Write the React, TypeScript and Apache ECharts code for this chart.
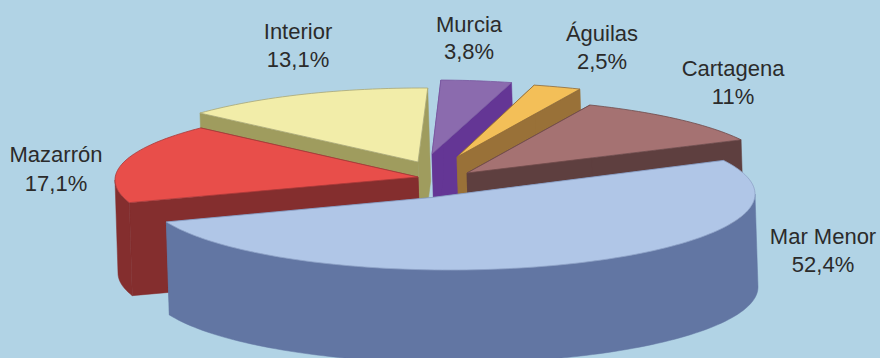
import React, { useEffect, useRef } from "react";
import * as echarts from "echarts";

// Clockwise from the top of the pie
const categories = ["Murcia", "Águilas", "Cartagena", "Mar Menor", "Mazarrón", "Interior"];
const values = [3.8, 2.5, 11, 52.4, 17.1, 13.1];
const percentLabels = ["3,8%", "2,5%", "11%", "52,4%", "17,1%", "13,1%"];
const topColors = ["#8B6BAE", "#F3BF58", "#A57272", "#B0C6E7", "#E84E4A", "#F2EDA9"];
const wallColors = ["#643695", "#997138", "#5E3F3F", "#6276A3", "#842E2E", "#9F9C5E"];
const edgeColors = ["#7A58A0", "#8E6A38", "#6E4A4A", "#8FA3C8", "#A83A3A", "#A9A775"];

// Back-to-front painting rank of each slice
const paintRank = [1, 2, 3, 5, 4, 0];

// Exploded-slice layout: [apexX, apexY, ellipseX, ellipseY, radiusX, radiusY, endTrimDegrees]
const sliceLayout = [
  [432, 154, 433, 155, 300, 75, 0],
  [457, 157, 453, 157.5, 310, 75, 0],
  [467, 173, 463, 172.5, 310, 74, 0],
  [432, 197.5, 450, 194, 305, 76, -4],
  [418, 177, 421, 180, 306, 75, 0],
  [418, 162, 421.6, 170, 308, 82, 0],
];
const labelLayout = [
  [469, 24, 51],
  [602, 33, 61],
  [733, 68, 96],
  [823, 236, 264],
  [56, 154, 183],
  [298, 31, 59],
];

const START_ANGLE = 1.5;
const WALL_HEIGHT = 93;
const WALL_SHIFT = 3;
const TEXT_COLOR = "#2B2B2B";
const BACKGROUND = "#B1D3E5";

const startAngles = values.map((_, i) =>
  values.slice(0, i).reduce((sum, v) => sum + v * 3.6, START_ANGLE)
);

function rimPoint(i: number, deg: number): number[] {
  const [, , ex, ey, rx, ry] = sliceLayout[i];
  const a = (deg * Math.PI) / 180;
  return [ex + rx * Math.sin(a), ey - ry * Math.cos(a)];
}

function arcPoints(i: number, from: number, to: number): number[][] {
  const n = Math.max(2, Math.ceil((to - from) / 1.5));
  const pts: number[][] = [];
  for (let k = 0; k <= n; k++) pts.push(rimPoint(i, from + ((to - from) * k) / n));
  return pts;
}

const lower = (p: number[]) => [p[0] + WALL_SHIFT, p[1] + WALL_HEIGHT];

function renderSlice(params: any, api: any) {
  const i = params.dataIndex;
  const sweep = api.value(0) * 3.6;
  const a0 = startAngles[i];
  const a1 = a0 + sweep + sliceLayout[i][6];
  const apex = [sliceLayout[i][0], sliceLayout[i][1]];
  const z = paintRank[i] * 10;
  const poly = (points: number[][], fill: string, stroke: string, width: number, z2: number) => ({
    type: "polygon",
    z2,
    shape: { points },
    style: { fill, stroke, lineWidth: width, lineJoin: "round" },
    silent: true,
  });
  const wall = wallColors[i];
  const children: any[] = [];
  const radial = (deg: number, z2: number) => {
    const rim = rimPoint(i, deg);
    return poly([apex, rim, lower(rim), lower(apex)], wall, wall, 0.5, z2);
  };
  children.push(radial(a1, z + 1));
  children.push(radial(a0, z + 2));
  const frontFrom = Math.max(a0, 90);
  const frontTo = Math.min(a1, 270);
  if (frontTo > frontFrom) {
    const arc = arcPoints(i, frontFrom, frontTo);
    children.push(poly([...arc, ...arc.slice().reverse().map(lower)], wall, wall, 0.5, z + 3));
  }
  children.push(poly([apex, ...arcPoints(i, a0, a1)], topColors[i], edgeColors[i], 0.8, z + 4));
  return { type: "group", children };
}

const labelGraphics = categories.flatMap((name, i) => {
  const [x, y1, y2] = labelLayout[i];
  return [
    [name, y1],
    [percentLabels[i], y2],
  ].map(([text, y]) => ({
    type: "text",
    x,
    y: y as number,
    silent: true,
    style: {
      text: text as string,
      fill: TEXT_COLOR,
      font: '22px "Liberation Sans", sans-serif',
      textAlign: "center",
      textVerticalAlign: "middle",
    },
  }));
});

export default function App() {
  const ref = useRef<HTMLDivElement>(null);
  useEffect(() => {
    document.body.style.margin = "0";
    const chart = echarts.init(ref.current!, null, { renderer: "svg" });
    chart.setOption({
      animation: false,
      backgroundColor: BACKGROUND,
      graphic: { elements: labelGraphics },
      series: [
        {
          type: "custom",
          coordinateSystem: "none",
          renderItem: renderSlice,
          clip: false,
          silent: true,
          data: values.map((v, i) => ({ name: categories[i], value: [v] })),
        },
      ],
    });
    return () => chart.dispose();
  }, []);
  return <div ref={ref} style={{ width: 880, height: 358, overflow: "hidden" }} />;
}
